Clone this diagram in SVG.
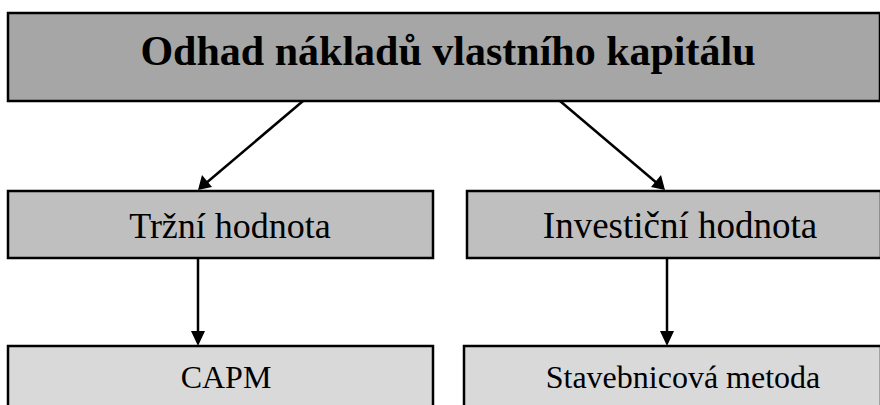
<svg xmlns="http://www.w3.org/2000/svg" width="880" height="405" viewBox="0 0 880 405">
<defs>
<marker id="ah" markerWidth="8" markerHeight="8" refX="7" refY="4" orient="auto" markerUnits="userSpaceOnUse" viewBox="0 0 8 8">
<path d="M0,0 L8,4 L0,8 Z" fill="#000"/>
</marker>
<style>
.box{stroke:#000;stroke-width:2.5}
.t{font-family:"Liberation Serif","Times New Roman",serif;fill:#000;text-anchor:middle}
.c{stroke:#000;stroke-width:2.5;fill:none}
</style>
</defs>
<rect width="880" height="405" fill="#fff"/>
<g id="top">
<rect class="box" x="8" y="13" width="872" height="88" fill="#a6a6a6"/>
<text class="t" x="448" y="65" font-size="42" font-weight="bold">Odhad nákladů vlastního kapitálu</text>
</g>
<g id="trzni">
<rect class="box" x="8" y="191" width="425" height="67" fill="#bfbfbf"/>
<text class="t" x="230" y="238" font-size="36">Tržní hodnota</text>
</g>
<g id="investicni">
<rect class="box" x="467" y="191" width="414" height="67" fill="#bfbfbf"/>
<text class="t" x="680" y="238" font-size="37">Investiční hodnota</text>
</g>
<g id="capm">
<rect class="box" x="8" y="346" width="425" height="70" fill="#d9d9d9"/>
<text class="t" x="226" y="388" font-size="32">CAPM</text>
</g>
<g id="stavebnicova">
<rect class="box" x="464" y="346" width="417" height="70" fill="#d9d9d9"/>
<text class="t" x="683" y="388" font-size="32">Stavebnicová metoda</text>
</g>
<g id="connectors">
<line class="c" x1="303" y1="101" x2="205" y2="184" stroke-width="2.5"/>
<path d="M198,190 L202,175 L212,187 Z" fill="#000"/>
<line class="c" x1="560" y1="101" x2="658" y2="184"/>
<path d="M665,190 L651,187 L661,175 Z" fill="#000"/>
<line class="c" x1="198" y1="258" x2="198" y2="333"/>
<path d="M191,331 L205,331 L198,346 Z" fill="#000"/>
<line class="c" x1="667" y1="258" x2="667" y2="333"/>
<path d="M660,331 L674,331 L667,346 Z" fill="#000"/>
</g>
</svg>
